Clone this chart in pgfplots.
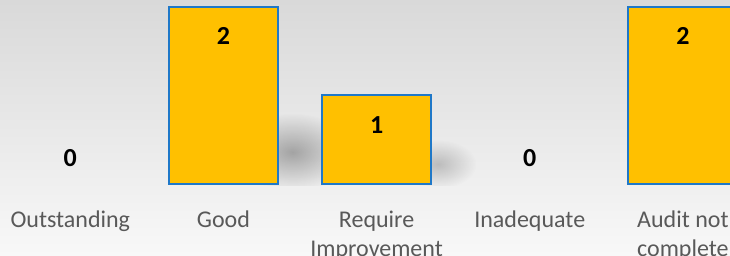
\documentclass[border=0pt]{standalone}
\usepackage{pgfplots}
\pgfplotsset{compat=1.18}
\usepackage{fontspec}
\setmainfont{Carlito}
\usetikzlibrary{fadings}
\definecolor{barfill}{HTML}{FFC000}
\definecolor{barline}{HTML}{1F78C8}
\definecolor{labelgray}{HTML}{595959}
\definecolor{bgtop}{HTML}{D9D9D9}
\definecolor{bgbot}{HTML}{F8F8F8}
\tikzfading[name=softfade, inner color=transparent!0, outer color=transparent!100]
\begin{document}
\begin{tikzpicture}
\path[use as bounding box, clip] (0,0) rectangle (730pt,256pt);
\shade[top color=bgtop, bottom color=bgbot] (0,0) rectangle (730pt,256pt);
\begin{axis}[
  at={(0pt,70.23pt)}, anchor=south west,
  scale only axis, width=730pt, height=180.54pt,
  xmin=-0.459, xmax=4.3075, ymin=-0.02, ymax=2.02,
  ybar, bar width=0.712, bar shift=0pt,
  axis line style={draw=none}, tick style={draw=none}, ytick=\empty,
  xtick={0,1,2,3,4},
  xticklabels={{\strut Outstanding}, {\strut Good}, {\strut Require\\Improvement}, {\strut Inadequate}, {\strut Audit not\\complete}},
  xticklabel style={align=center, font=\fontsize{24}{28.4}\selectfont, text=labelgray, anchor=north, inner sep=0pt, yshift=-17.8pt},
  nodes near coords,
  /pgf/number format/assume math mode=true,
  every node near coord/.append style={font=\bfseries\fontsize{26}{30}\selectfont, text=black, anchor=base},
]
% soft shadows to the right of the bars
\fill[black!70, fill opacity=0.45, path fading=softfade] (axis cs:1.05,-0.08) rectangle (axis cs:1.85,0.8);
\fill[black!70, fill opacity=0.3, path fading=softfade] (axis cs:2.15,-0.05) rectangle (axis cs:2.65,0.5);
\addplot[fill=barfill, draw=barline, line width=2pt,
  every node near coord/.append style={yshift=-38pt}]
  coordinates {(1,2) (2,1) (4,2)};
\addplot[fill=none, draw=none,
  every node near coord/.append style={yshift=17pt}]
  coordinates {(0,0) (3,0)};
\end{axis}
\end{tikzpicture}
\end{document}
